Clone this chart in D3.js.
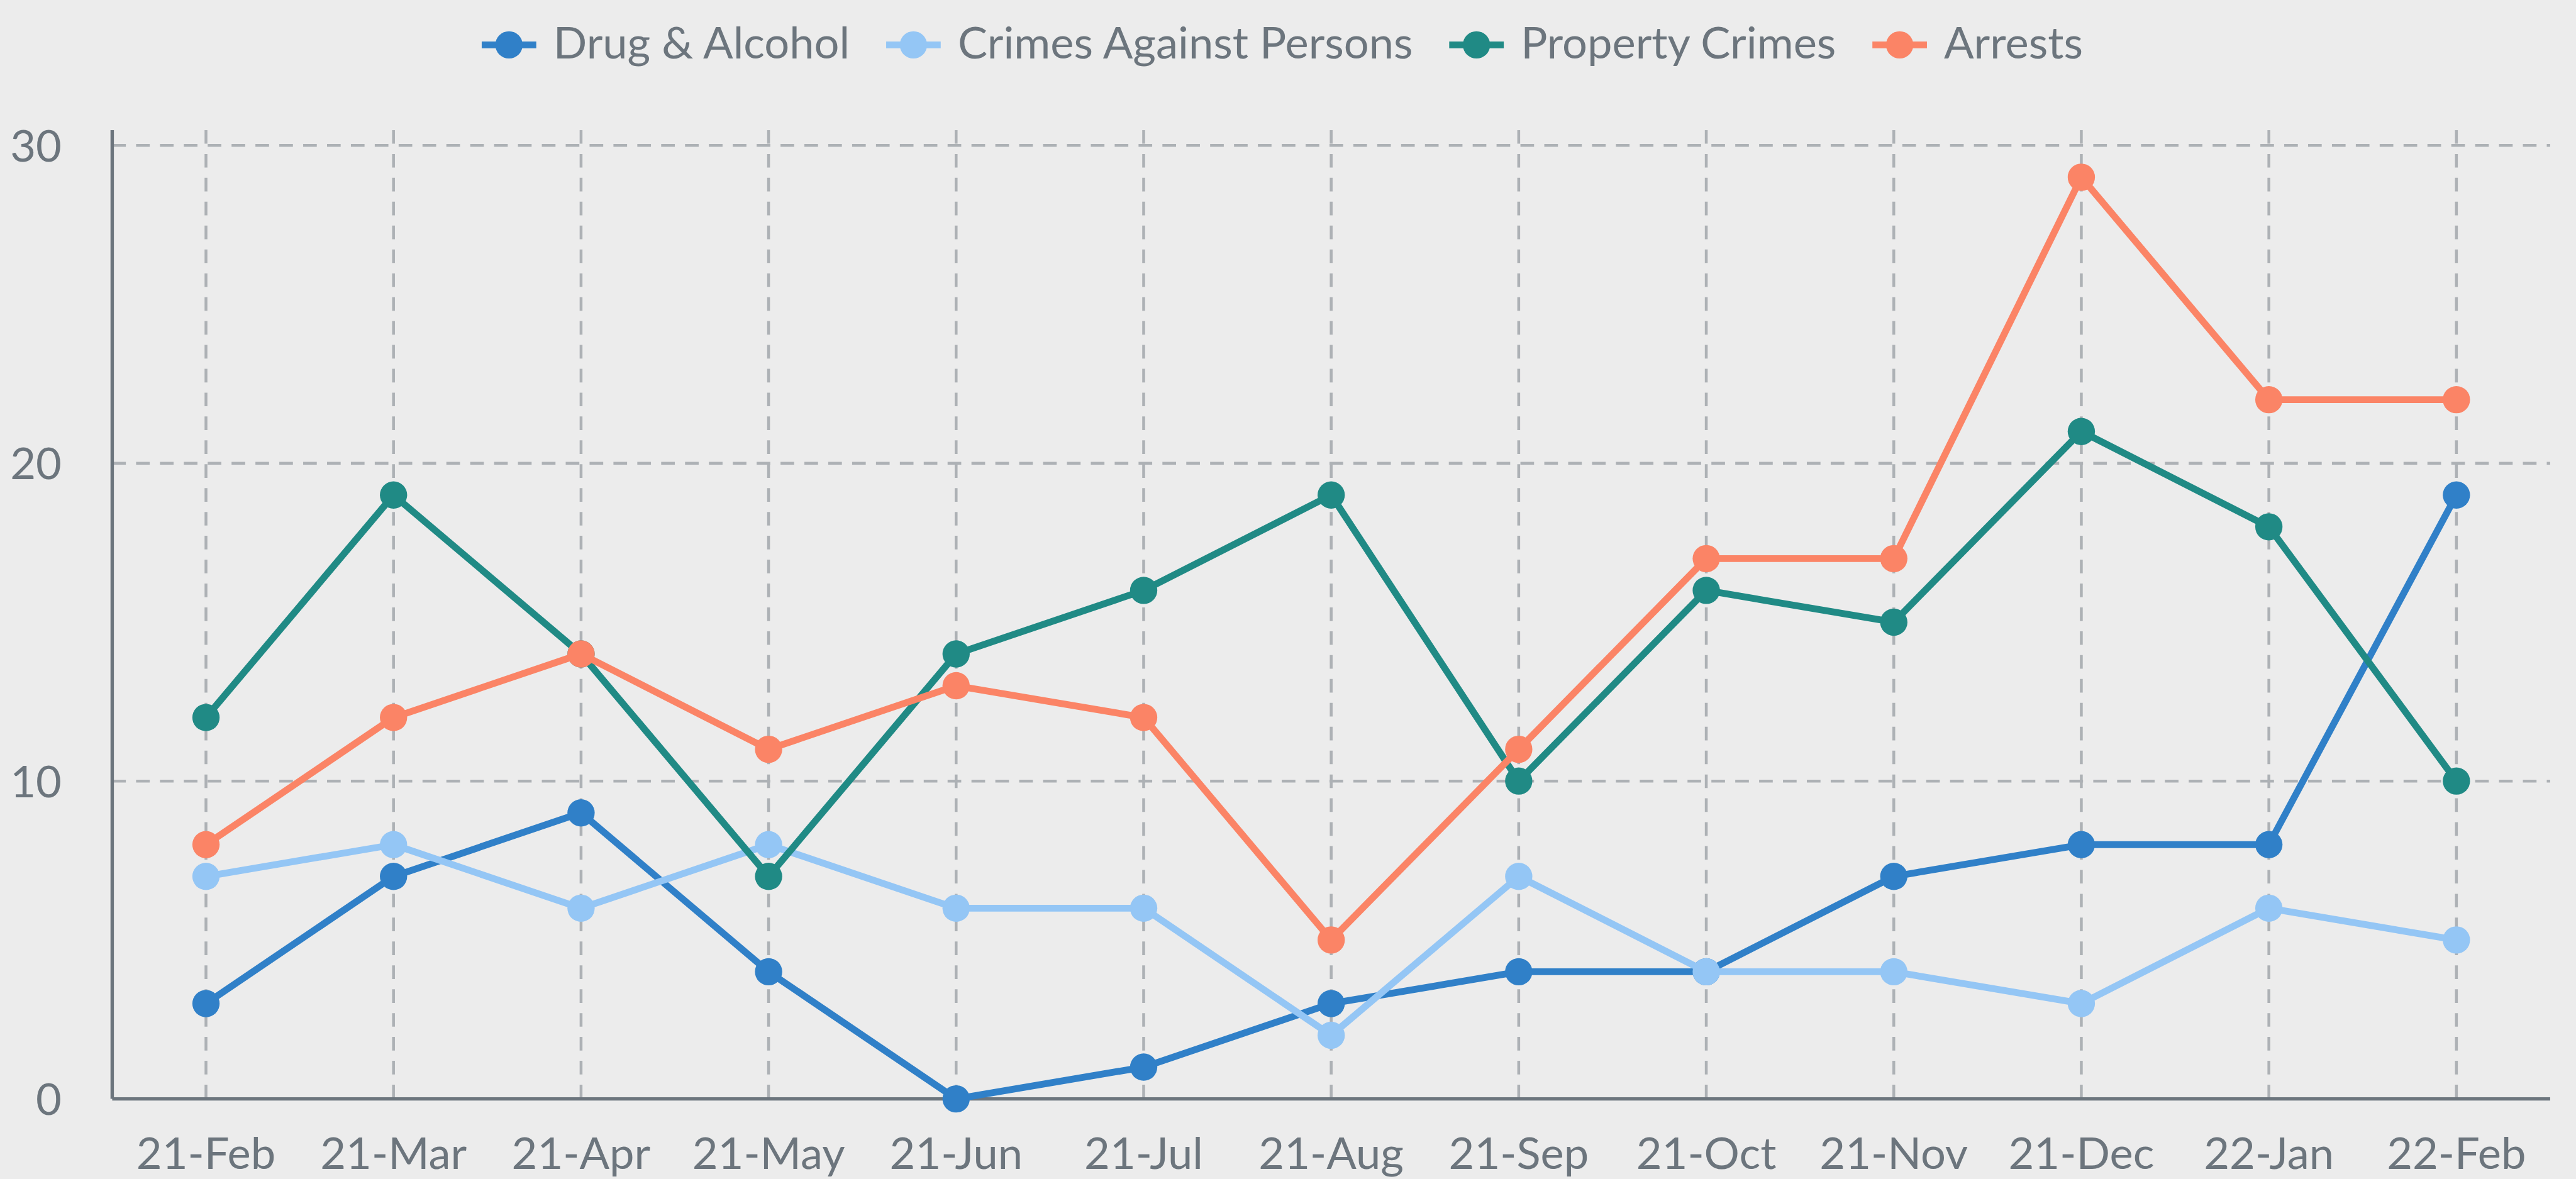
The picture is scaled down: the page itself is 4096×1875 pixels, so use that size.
<!DOCTYPE html>
<html>
<head>
<meta charset="utf-8">
<script src="https://cdn.jsdelivr.net/npm/d3@7"></script>
<style>
  html, body { margin: 0; padding: 0; background: #ececec; }
  svg { display: block; }
</style>
</head>
<body>
<svg id="chart" width="4096" height="1875" viewBox="0 0 4532 2075"></svg>
<script>
const months = ["21-Feb", "21-Mar", "21-Apr", "21-May", "21-Jun", "21-Jul", "21-Aug",
                "21-Sep", "21-Oct", "21-Nov", "21-Dec", "22-Jan", "22-Feb"];
const drugAlcohol   = [3, 7, 9, 4, 0, 1, 3, 4, 4, 7, 8, 8, 19];
const crimesPersons = [7, 8, 6, 8, 6, 6, 2, 7, 4, 4, 3, 6, 5];
const propertyCrimes = [12, 19, 14, 7, 14, 16, 19, 10, 16, 15, 21, 18, 10];
const arrests       = [8, 12, 14, 11, 13, 12, 5, 11, 17, 17, 29, 22, 22];
const seriesNames = ["Drug & Alcohol", "Crimes Against Persons", "Property Crimes", "Arrests"];
const seriesColors = ["#3080c8", "#94c6f5", "#208a85", "#fb8466"];
const yTicks = [0, 10, 20, 30];

const series = [drugAlcohol, crimesPersons, propertyCrimes, arrests].map((v, i) => ({
  name: seriesNames[i], color: seriesColors[i], values: v
}));

const svg = d3.select("#chart");
const W = 4532;
const plotLeft = 197, plotRight = 4487, plotBottom = 1934, plotTop = 229;
const textColor = "#6c757d";
const gridColor = "#adb1b5";
const font = "Lato, 'Noto Sans', sans-serif";

svg.append("rect").attr("width", W).attr("height", 2075).attr("fill", "#ececec");

const x = d3.scaleBand().domain(months).range([plotLeft, plotRight]);
const y = d3.scaleLinear().domain([0, 30]).range([plotBottom, 256]);
const cx = d => x(d) + x.bandwidth() / 2;

// grid
const grid = svg.append("g");
grid.selectAll(".vg").data(months).join("line")
  .attr("x1", cx).attr("x2", cx)
  .attr("y1", plotTop).attr("y2", plotBottom)
  .attr("stroke", gridColor).attr("stroke-width", 5)
  .attr("stroke-dasharray", "24,18");
grid.selectAll(".hg").data(yTicks.filter(t => t > 0)).join("line")
  .attr("x1", plotLeft).attr("x2", plotRight)
  .attr("y1", d => y(d)).attr("y2", d => y(d))
  .attr("stroke", gridColor).attr("stroke-width", 5)
  .attr("stroke-dasharray", "24,18");

// axes
svg.append("line").attr("x1", plotLeft).attr("x2", plotLeft).attr("y1", plotTop).attr("y2", plotBottom)
  .attr("stroke", textColor).attr("stroke-width", 6);
svg.append("line").attr("x1", plotLeft).attr("x2", plotRight).attr("y1", plotBottom).attr("y2", plotBottom)
  .attr("stroke", textColor).attr("stroke-width", 6);

svg.append("g").selectAll("text").data(yTicks).join("text")
  .attr("x", 108).attr("y", d => y(d)).attr("dy", "0.36em")
  .attr("text-anchor", "end")
  .attr("font-family", font).attr("font-size", 78).attr("fill", textColor)
  .text(d => d);

svg.append("g").selectAll("text").data(months).join("text")
  .attr("x", cx).attr("y", 2057)
  .attr("text-anchor", "middle")
  .attr("font-family", font).attr("font-size", 78).attr("fill", textColor)
  .text(d => d);

// lines and markers
const line = d3.line().x((d, i) => cx(months[i])).y(d => y(d));
series.forEach(s => {
  const g = svg.append("g");
  g.append("path").datum(s.values)
    .attr("d", line).attr("fill", "none")
    .attr("stroke", s.color).attr("stroke-width", 12)
    .attr("stroke-linejoin", "round");
  g.selectAll("circle").data(s.values).join("circle")
    .attr("cx", (d, i) => cx(months[i])).attr("cy", d => y(d))
    .attr("r", 24).attr("fill", s.color);
});

// legend
const legend = svg.append("g");
const items = legend.selectAll("g").data(series).join("g");
items.append("line").attr("x1", 0).attr("x2", 96).attr("y1", 79).attr("y2", 79)
  .attr("stroke", d => d.color).attr("stroke-width", 12);
items.append("circle").attr("cx", 48).attr("cy", 79).attr("r", 24).attr("fill", d => d.color);
items.append("text").attr("x", 126).attr("y", 103)
  .attr("font-family", font).attr("font-size", 78).attr("fill", textColor)
  .text(d => d.name);
let pos = 0;
const offsets = [];
items.each(function() {
  offsets.push(pos);
  const tw = d3.select(this).select("text").node().getComputedTextLength();
  pos += 126 + tw + 64;
});
const total = pos - 64;
const start = 2256 - total / 2;
items.attr("transform", (d, i) => `translate(${start + offsets[i]},0)`);
</script>
</body>
</html>
